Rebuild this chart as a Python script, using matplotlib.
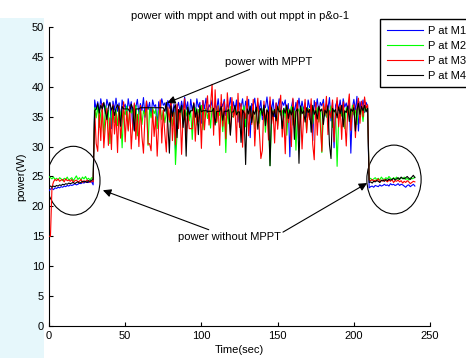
import numpy as np
import matplotlib.pyplot as plt
from matplotlib.patches import Ellipse, Rectangle

plt.rcParams['font.family'] = ['Liberation Sans', 'DejaVu Sans']

# time axis (sec), one sample per second
t = np.arange(0, 241)

# ---- P at M1 (blue) ----
m1_before = [22.6, 22.9, 23.0, 22.8, 23.1, 23.0, 23.2, 23.1, 23.3, 23.2,
             23.4, 23.3, 23.5, 23.4, 23.6, 23.5, 23.6, 23.8, 23.6, 23.7,
             23.9, 23.8, 24.0, 23.9, 24.1, 24.0, 24.0, 24.2, 24.1, 23.6]
m1_mppt = [37.8, 36.2, 37.5, 35.8, 38.0, 36.4, 37.2, 35.5, 37.9, 36.8, 37.4, 33.0, 37.6, 36.1, 38.1, 35.9, 37.3, 34.2, 37.8, 36.5,
           37.1, 35.2, 38.0, 36.3, 37.5, 32.8, 37.0, 36.6, 37.9, 35.4, 37.2, 36.0, 38.2, 34.9, 37.6, 36.2, 37.4, 35.1, 37.8, 36.7,
           37.0, 33.5, 37.5, 36.0, 38.0, 36.9, 37.3, 35.6, 37.7, 36.4, 37.9, 35.0, 37.1, 29.5, 36.5, 37.4, 35.8, 37.6, 36.1, 38.3,
           36.2, 37.5, 34.8, 37.9, 36.0, 37.2, 35.3, 38.0, 36.6, 37.4, 33.9, 37.7, 36.3, 38.1, 35.7, 37.0, 36.5, 37.8, 34.6, 37.3,
           36.1, 38.0, 35.5, 37.4, 36.7, 37.9, 35.2, 37.1, 36.4, 38.2, 35.9, 37.5, 36.0, 37.8, 34.1, 37.3, 36.6, 38.0, 35.4, 37.6,
           36.3, 37.9, 31.5, 37.2, 36.8, 38.1, 35.6, 37.4, 36.2, 37.7, 34.5, 37.0, 36.5, 38.3, 35.8, 37.6, 36.1, 37.9, 35.0, 37.3,
           36.4, 38.0, 35.3, 37.5, 36.9, 37.8, 34.7, 37.2, 28.3, 36.6, 37.9, 35.5, 37.4, 36.2, 38.1, 35.9, 37.6, 36.0, 37.3, 34.9,
           37.8, 36.5, 37.1, 31.0, 37.7, 36.3, 38.0, 35.6, 37.4, 36.8, 37.9, 35.1, 37.2, 36.4, 38.2, 34.3, 37.5, 29.8, 36.9, 37.6,
           36.1, 37.8, 35.4, 38.0, 36.6, 37.3, 35.8, 37.7, 28.9, 36.4, 37.9, 36.0, 38.4, 32.6, 37.5, 36.2, 37.8, 35.7, 37.4, 36.8]
m1_after = [23.1, 23.3, 23.4, 23.2, 23.5, 23.4, 23.3, 23.6, 23.4, 23.5, 23.7,
            23.5, 23.6, 23.4, 23.8, 23.6, 23.7, 23.5, 23.6, 23.8, 23.5,
            23.7, 23.6, 23.4, 23.2, 23.5, 23.6, 23.3, 23.5, 23.7, 23.4]

# ---- P at M2 (green) ----
m2_before = [25.0, 24.8, 24.6, 24.9, 24.5, 24.7, 24.4, 24.8, 24.6, 24.3,
             24.7, 24.5, 24.9, 24.4, 24.6, 24.8, 24.3, 24.7, 25.1, 24.5,
             24.8, 24.4, 24.9, 24.6, 25.0, 24.5, 24.7, 24.4, 24.8, 24.6]
m2_mppt = [36.5, 34.8, 36.9, 33.2, 35.7, 36.3, 31.5, 36.8, 35.0, 36.1, 30.5, 35.9, 36.6, 34.0, 36.2, 33.5, 36.7, 35.4, 29.8, 36.0,
           35.3, 36.8, 32.9, 36.1, 35.6, 36.5, 34.2, 36.9, 31.8, 35.8, 36.4, 33.7, 36.0, 35.2, 36.7, 30.2, 36.3, 34.8, 36.5, 35.5,
           36.2, 33.0, 35.9, 36.6, 34.5, 36.1, 34.0, 35.7, 36.4, 34.1, 36.8, 33.4, 35.8, 27.0, 32.1, 36.0, 35.3, 36.7, 33.9, 36.2,
           35.1, 36.6, 34.3, 36.0, 31.2, 35.8, 36.5, 33.6, 36.2, 35.4, 36.9, 32.8, 35.9, 36.4, 34.7, 36.1, 33.1, 36.6, 35.6, 36.3,
           34.0, 36.8, 35.2, 36.0, 32.5, 36.5, 29.0, 36.2, 33.8, 36.7, 35.0, 35.0, 36.1, 35.5, 36.6, 34.4, 36.3, 35.9, 36.8, 33.3,
           36.0, 35.4, 36.7, 34.6, 36.2, 33.0, 35.8, 36.5, 33.9, 36.1, 35.6, 36.9, 32.4, 36.3, 35.1, 26.8, 34.2, 36.0, 35.7, 36.4,
           33.5, 36.8, 35.3, 36.1, 34.8, 36.5, 31.9, 36.2, 35.0, 36.7, 33.6, 36.0, 29.4, 35.8, 36.3, 34.5, 36.6, 35.4, 36.1, 32.7,
           36.4, 35.6, 36.9, 33.8, 36.0, 35.2, 36.5, 34.1, 36.2, 29.0, 35.9, 36.6, 34.9, 36.3, 35.5, 36.8, 33.2, 36.1, 35.7, 26.7,
           34.4, 36.7, 35.1, 36.0, 33.0, 36.5, 35.8, 36.2, 34.6, 36.9, 35.3, 36.1, 33.7, 36.6, 35.9, 36.3, 34.2, 36.8, 36.0, 36.5]
m2_after = [24.5, 24.7, 24.4, 24.6, 24.8, 24.5, 24.7, 24.4, 24.9, 24.6, 24.5,
            24.8, 24.6, 25.0, 24.7, 24.5, 24.8, 24.6, 24.9, 24.5, 24.7,
            24.8, 24.6, 24.9, 24.5, 24.7, 24.4, 24.8, 24.6, 24.7, 24.9]

# ---- P at M3 (red) ----
m3_before = [15.0, 15.0, 23.2, 24.1, 24.5, 24.3, 24.6, 24.2, 24.4, 24.5,
             24.1, 24.6, 24.3, 24.4, 24.2, 24.5, 24.0, 24.3, 24.4, 24.1,
             24.2, 24.5, 24.0, 24.3, 24.1, 24.4, 24.2, 24.0, 24.3, 24.1]
m3_mppt = [36.0, 30.5, 29.2, 35.8, 31.0, 37.2, 29.8, 33.5, 36.4, 30.2, 34.8, 29.5, 37.0, 32.1, 35.5, 29.0, 36.8, 31.4, 34.2, 37.5,
           30.8, 35.9, 32.6, 36.7, 29.6, 34.0, 37.3, 31.2, 35.4, 30.0, 36.9, 31.7, 28.9, 35.1, 37.6, 30.4, 30.5, 29.3, 36.2, 31.7,
           35.0, 28.4, 33.9, 37.8, 30.6, 36.1, 32.2, 29.1, 36.6, 34.4, 37.9, 31.0, 35.7, 30.3, 37.1, 33.0, 36.3, 28.7, 35.2, 38.0,
           31.5, 36.0, 33.0, 33.0, 33.0, 37.4, 30.9, 35.8, 34.1, 36.9, 29.7, 37.7, 32.8, 36.2, 38.5, 33.6, 37.0, 40.4, 31.9, 39.5,
           34.2, 36.8, 30.2, 38.7, 33.4, 37.5, 31.3, 39.0, 35.6, 32.0, 38.2, 34.9, 36.4, 30.7, 38.9, 33.2, 37.2, 29.9, 36.0, 34.7,
           38.4, 31.8, 36.5, 33.7, 37.9, 30.1, 35.3, 38.1, 32.5, 28.0, 29.4, 37.6, 34.3, 36.1, 31.1, 38.3, 33.8, 35.9, 30.6, 37.3,
           32.9, 36.6, 38.6, 31.6, 35.2, 28.8, 37.0, 34.0, 36.3, 30.0, 38.1, 33.1, 35.6, 37.7, 31.4, 36.4, 29.6, 35.0, 37.9, 32.3,
           36.2, 34.5, 38.0, 30.4, 27.8, 37.4, 31.9, 36.8, 33.6, 29.2, 37.2, 35.3, 38.4, 32.0, 36.0, 34.8, 37.8, 30.8, 35.5, 38.2,
           33.3, 36.9, 31.2, 37.5, 34.6, 30.1, 36.5, 38.8, 32.7, 35.8, 37.1, 31.5, 36.3, 38.1, 33.9, 37.6, 35.0, 38.3, 36.4, 37.0]
m3_after = [24.4, 24.3, 24.5, 24.2, 24.4, 24.3, 24.6, 24.1, 24.4, 24.2, 24.5,
            24.3, 24.1, 24.4, 24.2, 24.5, 24.0, 24.3, 24.2, 24.4, 24.1,
            24.3, 23.9, 24.2, 24.0, 24.3, 24.1, 23.8, 24.0, 24.2, 24.1]

# ---- P at M4 (black) ----
m4_before = [23.3, 23.4, 23.2, 23.4, 23.3, 23.5, 23.4, 23.6, 23.5, 23.7,
             23.6, 23.8, 23.7, 23.9, 23.8, 23.9, 24.0, 23.8, 24.0, 24.1,
             23.9, 24.0, 24.2, 24.1, 24.2, 24.0, 24.3, 24.2, 24.4, 24.5]
m4_mppt = [36.0, 36.3, 37.2, 35.6, 36.9, 36.3, 37.4, 36.0, 34.5, 36.6, 37.3, 36.1, 36.8, 35.2, 36.4, 37.0, 36.2, 33.4, 36.7, 36.3,
           36.3, 36.3, 36.3, 35.8, 37.1, 36.4, 32.6, 36.3, 36.3, 36.3, 36.5, 36.5, 36.5, 36.5, 36.5, 36.5, 36.5, 36.5, 36.5, 36.5,
           36.5, 36.5, 36.5, 36.5, 36.5, 36.5, 35.9, 37.4, 33.8, 28.9, 36.8, 35.1, 36.4, 37.0, 31.5, 36.2, 35.7, 36.9, 33.2, 36.1,
           28.4, 36.6, 35.4, 36.0, 36.0, 37.2, 34.9, 36.3, 32.0, 36.8, 35.8, 36.0, 36.0, 36.0, 35.9, 35.9, 35.9, 35.9, 36.4, 33.6,
           35.9, 35.9, 35.9, 36.7, 34.4, 35.9, 35.9, 35.9, 36.2, 31.9, 35.8, 35.8, 36.9, 35.3, 35.8, 35.8, 30.7, 36.1, 35.6, 27.0,
           36.3, 35.5, 36.8, 34.0, 36.0, 35.4, 36.6, 32.9, 35.9, 36.4, 35.2, 36.9, 33.5, 36.1, 35.7, 26.8, 36.5, 35.0, 36.2, 34.3,
           36.7, 35.8, 36.0, 33.0, 36.4, 35.6, 36.9, 34.7, 36.1, 35.3, 36.6, 31.2, 35.9, 36.3, 27.2, 36.8, 35.5, 36.0, 34.1, 36.5,
           35.7, 36.2, 32.4, 36.9, 35.4, 36.0, 34.6, 36.7, 35.9, 36.3, 33.7, 36.1, 35.6, 36.8, 30.3, 28.0, 36.4, 35.8, 36.2, 34.8,
           36.6, 35.5, 36.9, 33.3, 36.0, 35.7, 36.8, 34.2, 36.3, 35.9, 36.5, 32.6, 36.1, 37.2, 35.4, 36.7, 36.0, 36.9, 35.8, 36.4]
m4_after = [24.0, 24.1, 23.9, 24.2, 24.1, 24.3, 24.2, 24.0, 24.3, 24.4, 24.2,
            24.5, 24.3, 24.6, 24.4, 24.5, 24.7, 24.4, 24.6, 24.8, 24.5,
            24.9, 24.7, 24.6, 24.8, 25.0, 24.7, 24.5, 24.9, 25.2, 24.8]

labels = ['P at M1', 'P at M2', 'P at M3', 'P at M4']
colors = ['#0000ff', '#00ff00', '#ff0000', '#000000']
series = [m1_before + m1_mppt + m1_after,
          m2_before + m2_mppt + m2_after,
          m3_before + m3_mppt + m3_after,
          m4_before + m4_mppt + m4_after]

fig = plt.figure(figsize=(4.66, 3.58), dpi=100)

# faint cyan page background on the left, like the scanned source
fig.patches.append(Rectangle((0, 0), 0.095, 0.95, transform=fig.transFigure,
                             facecolor='#e6f7fb', edgecolor='none', zorder=-10))

ax = fig.add_axes([0.105, 0.0894, 0.818, 0.8352])
for y, c, lab in zip(series, colors, labels):
    ax.plot(t, y, color=c, lw=0.8, label=lab, zorder=3)

ax.set_xlim(0, 250)
ax.set_ylim(0, 50)
ax.set_xticks([0, 50, 100, 150, 200, 250])
ax.set_yticks(range(0, 51, 5))
ax.spines['top'].set_visible(False)
ax.spines['right'].set_visible(False)
ax.tick_params(direction='in', length=3, labelsize=8, width=0.8)
ax.set_xlabel('Time(sec)', fontsize=8, labelpad=3)
ax.set_ylabel('power(W)', fontsize=8, labelpad=4)
ax.set_title('power with mppt and with out mppt in p&o-1', fontsize=8, pad=6)

# circles around the non-MPPT parts
ax.add_patch(Ellipse((16, 24.3), 35, 11.5, fill=False, color='k', lw=0.8))
ax.add_patch(Ellipse((226.3, 24.5), 35.6, 11.5, fill=False, color='k', lw=0.8))

arrow = dict(arrowstyle='-|>', color='k', lw=0.8, mutation_scale=12,
             shrinkA=0, shrinkB=0)
ax.annotate('power with MPPT', xy=(77.5, 37.3), xytext=(115.5, 44.2),
            fontsize=8, ha='left', va='center', arrowprops=arrow)
ax.annotate('power without MPPT', xy=(35.4, 22.7), xytext=(118.5, 14.8),
            fontsize=8, ha='center', va='center', arrowprops=arrow)
ax.annotate('', xy=(208.7, 23.9), xytext=(153.5, 15.7), arrowprops=arrow)

ax.legend(loc='upper left', bbox_to_anchor=(380 / 466, 1 - 19 / 358),
          bbox_transform=fig.transFigure, fontsize=8, fancybox=False,
          edgecolor='k', framealpha=1, borderaxespad=0, handlelength=3.3,
          labelspacing=0.45, handletextpad=0.4, borderpad=0.6)

fig.savefig('out.png', dpi=100)
